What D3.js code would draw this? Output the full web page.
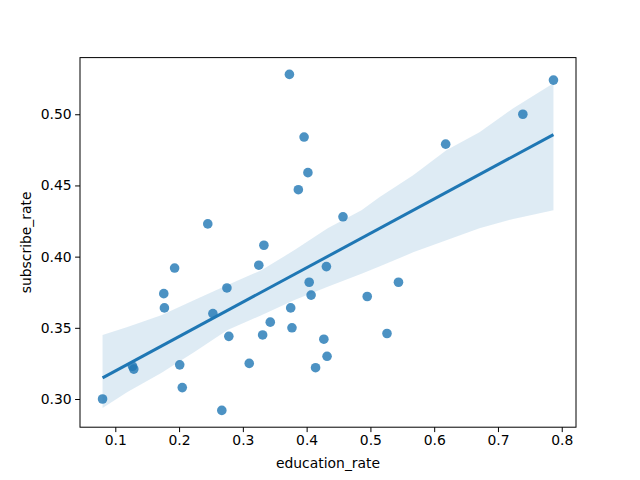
<!DOCTYPE html>
<html>
<head>
<meta charset="utf-8">
<script src="https://cdn.jsdelivr.net/npm/d3@7"></script>
<style>
  html, body { margin: 0; padding: 0; background: #fff; }
  svg { display: block; }
  text { font-family: "DejaVu Sans", sans-serif; fill: #000; }
</style>
</head>
<body>
<svg id="chart" width="640" height="480"></svg>
<script>
// ---- data ----
const educationRate = [0.373,0.787,0.739,0.396,0.618,0.402,0.387,0.457,0.245,0.333,0.193,0.325,0.431,0.176,0.275,0.404,0.544,0.177,0.253,0.407,0.495,0.375,0.343,0.377,0.331,0.278,0.427,0.526,0.432,0.414,0.310,0.201,0.127,0.129,0.080,0.205,0.267];
const subscribeRate = [0.528,0.524,0.500,0.484,0.479,0.459,0.447,0.428,0.423,0.408,0.392,0.394,0.393,0.374,0.378,0.382,0.382,0.364,0.360,0.373,0.372,0.364,0.354,0.350,0.345,0.344,0.342,0.346,0.330,0.322,0.325,0.324,0.323,0.321,0.300,0.308,0.292];
// bootstrap confidence band
const ciX    = [0.080,0.119,0.172,0.224,0.276,0.329,0.381,0.433,0.486,0.514,0.567,0.619,0.671,0.724,0.787];
const ciLow  = [0.2937,0.3049,0.3182,0.3330,0.3484,0.3589,0.3695,0.3788,0.3880,0.3930,0.4030,0.4115,0.4200,0.4265,0.4326];
const ciHigh = [0.3449,0.3505,0.3589,0.3695,0.3800,0.3905,0.4046,0.4200,0.4326,0.4418,0.4572,0.4747,0.4874,0.5042,0.5218];
const xTicks = [0.1,0.2,0.3,0.4,0.5,0.6,0.7,0.8];
const yTicks = [0.30,0.35,0.40,0.45,0.50];
const xLabel = "education_rate";
const yLabel = "subscribe_rate";

// ---- layout ----
const W = 640, H = 480;
const m = {left: 80, top: 57.6, right: 64, bottom: 52.8};
const iw = W - m.left - m.right, ih = H - m.top - m.bottom;
const color = "#1f77b4";

const svg = d3.select("#chart");
const g = svg.append("g").attr("transform", `translate(${m.left},${m.top})`);

function padded(lo, hi) { const d = hi - lo; return [lo - 0.05*d, hi + 0.05*d]; }
const xExt = d3.extent(educationRate.concat(ciX));
const yExt = d3.extent(subscribeRate.concat(ciLow, ciHigh));
const x = d3.scaleLinear().domain(padded(xExt[0], xExt[1])).range([0, iw]);
const y = d3.scaleLinear().domain(padded(yExt[0], yExt[1])).range([ih, 0]);

// OLS fit
const n = educationRate.length;
const mx = d3.mean(educationRate), my = d3.mean(subscribeRate);
let sxy = 0, sxx = 0;
for (let i = 0; i < n; i++) { sxy += (educationRate[i]-mx)*(subscribeRate[i]-my); sxx += (educationRate[i]-mx)**2; }
const slope = sxy / sxx, intercept = my - slope * mx;
const xmin = d3.min(educationRate), xmax = d3.max(educationRate);

// points
g.append("g").selectAll("circle").data(educationRate).join("circle")
  .attr("cx", d => x(d))
  .attr("cy", (d, i) => y(subscribeRate[i]))
  .attr("r", 4.8)
  .attr("fill", color)
  .attr("fill-opacity", 0.8);

// band
const band = ciX.map((d, i) => ({x: d, lo: ciLow[i], hi: ciHigh[i]}));
g.append("path").datum(band)
  .attr("d", d3.area().x(d => x(d.x)).y0(d => y(d.lo)).y1(d => y(d.hi)))
  .attr("fill", color).attr("fill-opacity", 0.15);

// regression line
g.append("path").datum([xmin, xmax])
  .attr("d", d3.line().x(d => x(d)).y(d => y(intercept + slope * d)))
  .attr("stroke", color).attr("stroke-width", 3).attr("fill", "none");

// axes
const xa = g.append("g").attr("transform", `translate(0,${ih})`)
  .call(d3.axisBottom(x).tickValues(xTicks).tickFormat(d3.format(".1f")).tickSize(4.9).tickPadding(3.5).tickSizeOuter(0));
const ya = g.append("g")
  .call(d3.axisLeft(y).tickValues(yTicks).tickFormat(d3.format(".2f")).tickSize(4.9).tickPadding(3.5).tickSizeOuter(0));
[xa, ya].forEach(a => {
  a.select(".domain").remove();
  a.selectAll(".tick line").attr("stroke", "#000").attr("stroke-width", 1);
  a.selectAll(".tick text").attr("font-size", "13.9px").attr("font-family", "DejaVu Sans").attr("fill", "#000");
});

// frame
g.append("rect").attr("x", 0).attr("y", 0).attr("width", iw).attr("height", ih)
  .attr("fill", "none").attr("stroke", "#000").attr("stroke-width", 1);

// labels
svg.append("text").attr("x", m.left + iw/2).attr("y", 468).attr("text-anchor", "middle")
  .attr("font-size", "13.9px").text(xLabel);
svg.append("text").attr("transform", `translate(31,${m.top + ih/2}) rotate(-90)`).attr("text-anchor", "middle")
  .attr("font-size", "13.9px").text(yLabel);
</script>
</body>
</html>
